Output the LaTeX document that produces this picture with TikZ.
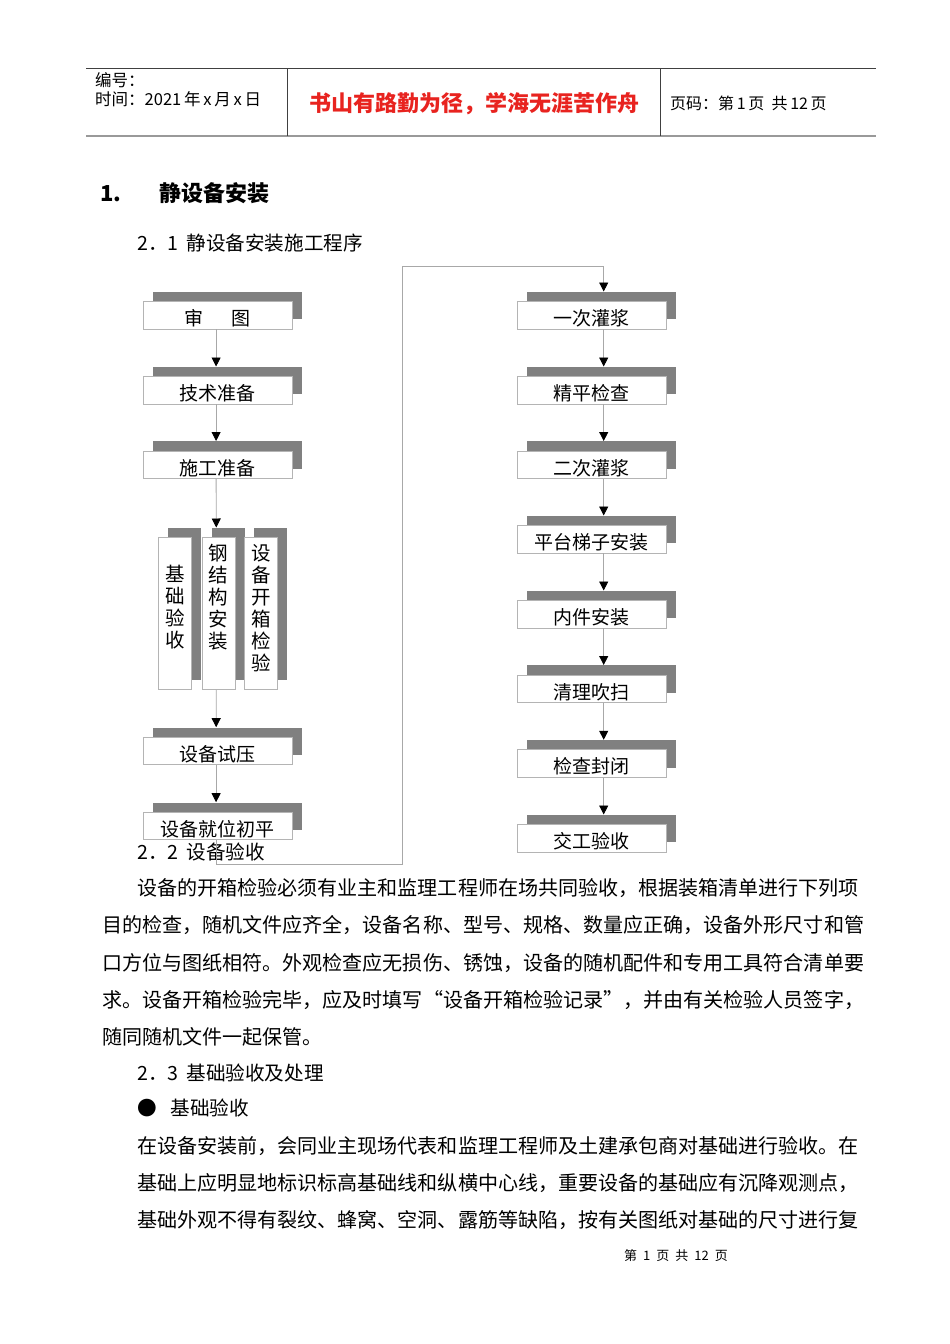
\documentclass[tikz,border=0pt]{standalone}
\usepackage{fontspec}
\setmainfont{Noto Sans CJK SC}
\usetikzlibrary{arrows.meta,shadows}
\definecolor{shade}{HTML}{808080}
\definecolor{boxline}{HTML}{B4B4B4}
\definecolor{connline}{HTML}{A8A8A8}
\definecolor{redtxt}{HTML}{E8231F}
\definecolor{hdrline}{HTML}{404040}
\begin{document}
\begin{tikzpicture}[x=1pt,y=-1pt,
  stepbox/.style={draw=boxline, fill=white, line width=0.8pt,
    minimum width=149pt, minimum height=27.5pt, inner sep=0pt,
    text height=21pt, text depth=0pt,
    anchor=north west, font=\fontsize{19}{20}\selectfont,
    drop shadow={shadow xshift=9.5pt, shadow yshift=9.5pt, fill=shade, opacity=1}},
  vbox/.style={stepbox, minimum width=33pt, minimum height=152pt},
  vtext/.style={anchor=north, inner sep=0pt, align=center, font=\fontsize{19.5}{22}\selectfont},
  conn/.style={draw=connline, line width=0.8pt},
  tip/.style={-{Triangle[width=9pt,length=9pt,black]}, shorten >=9.5pt},
  bodytxt/.style={anchor=west, inner sep=0pt, font=\fontsize{20.05}{21}\selectfont},
  hdrtxt/.style={anchor=west, inner sep=0pt, font=\fontsize{16.5}{17}\selectfont},
]
\useasboundingbox[fill=white] (0,0) rectangle (950,1344);

% ---------- header ----------
\draw[hdrline, line width=1pt] (86,68) -- (876,68);
\draw[gray!80, line width=1.8pt] (86,136) -- (876,136);
\draw[hdrline, line width=0.9pt] (287.3,68) -- (287.3,136);
\draw[hdrline, line width=0.9pt] (660.7,68) -- (660.7,136);
\node[hdrtxt] (hno) at (95,80) {编号：};
\node[hdrtxt] (htime) at (95,99) {时间：2021\,年\,x\,月\,x\,日};
\node[anchor=center, inner sep=0pt, text=redtxt, font=\fontsize{22}{23}\selectfont\bfseries] (motto) at (474,104) {书山有路勤为径，学海无涯苦作舟};
\node[anchor=west, inner sep=0pt, font=\fontsize{16}{17}\selectfont] (hpage) at (670,103) {页码：第\,1\,页 \ 共\,12\,页};

% ---------- headings ----------
\node[anchor=west, inner sep=0pt, font=\fontsize{22}{23}\selectfont\bfseries] (title) at (100,193) {1.\hspace{38pt}静设备安装};
\node[anchor=west, inner sep=0pt, font=\fontsize{19.6}{21}\selectfont] (h21) at (137,243) {2．1\hspace{8pt}静设备安装施工程序};

% ---------- left column ----------
\node[stepbox] (sh) at (143,301) {审\hspace{28pt}图};
\node[stepbox] (js) at (143,376) {技术准备};
\node[stepbox] (sg) at (143,450.5) {施工准备};
\node[vbox] (vb1) at (158.3,537) {};
\node[vbox] (vb2) at (201.7,537) {};
\node[vbox] (vb3) at (244.3,537) {};
\node[vtext] (vt1) at (175,565) {基\\础\\验\\收};
\node[vtext] (vt2) at (218,544) {钢\\结\\构\\安\\装};
\node[vtext] (vt3) at (261,544) {设\\备\\开\\箱\\检\\验};
\node[stepbox] (sy) at (143,736.7) {设备试压};
\node[stepbox] (jw) at (143,811.7) {设备就位初平};

% ---------- right column ----------
\node[stepbox] (yc) at (517,301) {一次灌浆};
\node[stepbox] (jp) at (517,376) {精平检查};
\node[stepbox] (ec) at (517,450.5) {二次灌浆};
\node[stepbox] (pt) at (517,525) {平台梯子安装};
\node[stepbox] (nj) at (517,600) {内件安装};
\node[stepbox] (ql) at (517,674.5) {清理吹扫};
\node[stepbox] (jc) at (517,749.3) {检查封闭};
\node[stepbox] (jg) at (517,824) {交工验收};

% ---------- connectors ----------
\draw[conn,tip] ([xshift=-1.8pt]sh.south) -- ([xshift=-1.8pt]js.north);
\draw[conn,tip] ([xshift=-1.8pt]js.south) -- ([xshift=-1.8pt]sg.north);
\draw[conn,tip] ([xshift=-1.8pt]sg.south) -- ([xshift=-2.3pt]vb2.north);
\draw[conn,tip] ([xshift=-2.3pt]vb2.south) -- ([xshift=-1.8pt]sy.north);
\draw[conn,tip] ([xshift=-1.8pt]sy.south) -- ([xshift=-1.8pt]jw.north);

\node[anchor=west, inner sep=0pt, font=\fontsize{19.6}{21}\selectfont] (h22) at (137,852) {2．2\hspace{8pt}设备验收};

\coordinate (lpA) at (402.3,864);
\coordinate (lpB) at (402.3,266.7);
\draw[conn,tip] ([xshift=-1.8pt]jw.south) |- (lpA) -- (lpB) -| ([xshift=11.8pt]yc.north);

\draw[conn,tip] ([xshift=11.8pt]yc.south) -- ([xshift=11.8pt]jp.north);
\draw[conn,tip] ([xshift=11.8pt]jp.south) -- ([xshift=11.8pt]ec.north);
\draw[conn,tip] ([xshift=11.8pt]ec.south) -- ([xshift=11.8pt]pt.north);
\draw[conn,tip] ([xshift=11.8pt]pt.south) -- ([xshift=11.8pt]nj.north);
\draw[conn,tip] ([xshift=11.8pt]nj.south) -- ([xshift=11.8pt]ql.north);
\draw[conn,tip] ([xshift=11.8pt]ql.south) -- ([xshift=11.8pt]jc.north);
\draw[conn,tip] ([xshift=11.8pt]jc.south) -- ([xshift=11.8pt]jg.north);

% ---------- body text ----------
\node[bodytxt] (p1a) at (137,888) {设备的开箱检验必须有业主和监理工程师在场共同验收，根据装箱清单进行下列项};
\node[bodytxt] (p1b) at (102,925) {目的检查，随机文件应齐全，设备名称、型号、规格、数量应正确，设备外形尺寸和管};
\node[bodytxt] (p1c) at (102,963) {口方位与图纸相符。外观检查应无损伤、锈蚀，设备的随机配件和专用工具符合清单要};
\node[bodytxt] (p1d) at (102,1000) {求。设备开箱检验完毕，应及时填写“设备开箱检验记录”，并由有关检验人员签字，};
\node[bodytxt] (p1e) at (102,1037) {随同随机文件一起保管。};
\node[anchor=west, inner sep=0pt, font=\fontsize{19.6}{21}\selectfont] (h23) at (137,1073) {2．3\hspace{8pt}基础验收及处理};
\node[anchor=west, inner sep=0pt, font=\fontsize{19.6}{21}\selectfont] (bul) at (137,1108) {●\hspace{14pt}基础验收};
\node[bodytxt] (p2a) at (137,1146) {在设备安装前，会同业主现场代表和监理工程师及土建承包商对基础进行验收。在};
\node[bodytxt] (p2b) at (137,1183) {基础上应明显地标识标高基础线和纵横中心线，重要设备的基础应有沉降观测点，};
\node[bodytxt] (p2c) at (137,1220) {基础外观不得有裂纹、蜂窝、空洞、露筋等缺陷，按有关图纸对基础的尺寸进行复};

% ---------- footer ----------
\node[anchor=center, inner sep=0pt, font=\fontsize{13}{14}\selectfont] (foot) at (676,1256) {第\hspace{6pt}1\hspace{6pt}页\hspace{6pt}共\hspace{6pt}12\hspace{6pt}页};
\end{tikzpicture}
\end{document}
